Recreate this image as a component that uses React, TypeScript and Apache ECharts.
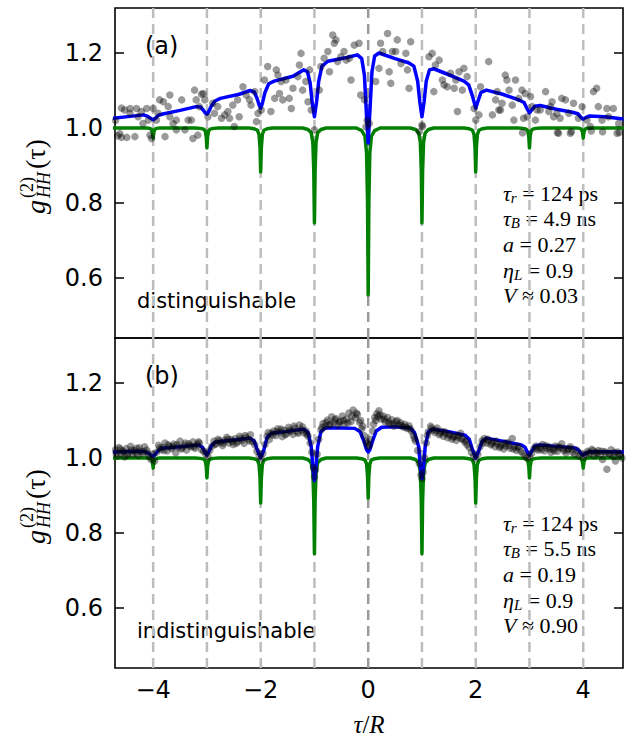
import React, { useEffect, useRef } from "react";
import * as echarts from "echarts";

const X_MIN = -4.71;
const X_MAX = 4.74;
const Y_MIN = 0.44;
const Y_MAX = 1.32;
const xTicks = [-4, -2, 0, 2, 4];
const yTicks = [0.6, 0.8, 1.0, 1.2];
const dashedAt = [-4, -3, -2, -1, 0, 1, 2, 3, 4];

const greenX = [
  -4.75,
  -4.22, -4.12, -4.06, -4.03, -4.012, -4, -3.988, -3.97, -3.94, -3.88, -3.78,
  -3.22, -3.12, -3.06, -3.03, -3.012, -3, -2.988, -2.97, -2.94, -2.88, -2.78,
  -2.22, -2.12, -2.06, -2.03, -2.012, -2, -1.988, -1.97, -1.94, -1.88, -1.78,
  -1.22, -1.12, -1.06, -1.03, -1.012, -1, -0.988, -0.97, -0.94, -0.88, -0.78,
  -0.22, -0.12, -0.06, -0.03, -0.012, 0, 0.012, 0.03, 0.06, 0.12, 0.22,
  0.78, 0.88, 0.94, 0.97, 0.988, 1, 1.012, 1.03, 1.06, 1.12, 1.22,
  1.78, 1.88, 1.94, 1.97, 1.988, 2, 2.012, 2.03, 2.06, 2.12, 2.22,
  2.78, 2.88, 2.94, 2.97, 2.988, 3, 3.012, 3.03, 3.06, 3.12, 3.22,
  3.78, 3.88, 3.94, 3.97, 3.988, 4, 4.012, 4.03, 4.06, 4.12, 4.22,
  4.75,
];
const greenYA = [
  1.0,
  1, 1.0, 0.999, 0.996, 0.988, 0.973, 0.988, 0.996, 0.999, 1.0, 1,
  1, 0.999, 0.997, 0.992, 0.976, 0.947, 0.976, 0.992, 0.997, 0.999, 1,
  1, 0.998, 0.994, 0.982, 0.947, 0.883, 0.947, 0.982, 0.994, 0.998, 1,
  1, 0.996, 0.987, 0.962, 0.886, 0.747, 0.886, 0.962, 0.987, 0.996, 1,
  1, 0.993, 0.978, 0.933, 0.8, 0.555, 0.8, 0.933, 0.978, 0.993, 1,
  1, 0.996, 0.987, 0.962, 0.886, 0.747, 0.886, 0.962, 0.987, 0.996, 1,
  1, 0.998, 0.994, 0.982, 0.947, 0.883, 0.947, 0.982, 0.994, 0.998, 1,
  1, 0.999, 0.997, 0.992, 0.976, 0.947, 0.976, 0.992, 0.997, 0.999, 1,
  1, 1.0, 0.999, 0.996, 0.988, 0.973, 0.988, 0.996, 0.999, 1.0, 1,
  1.0,
];
const greenYB = [
  1.0,
  1, 1.0, 0.999, 0.996, 0.988, 0.973, 0.988, 0.996, 0.999, 1.0, 1,
  1, 0.999, 0.997, 0.992, 0.976, 0.947, 0.976, 0.992, 0.997, 0.999, 1,
  1, 0.998, 0.994, 0.982, 0.946, 0.88, 0.946, 0.982, 0.994, 0.998, 1,
  1, 0.996, 0.987, 0.962, 0.885, 0.745, 0.885, 0.962, 0.987, 0.996, 1,
  1, 0.998, 0.995, 0.984, 0.952, 0.893, 0.952, 0.984, 0.995, 0.998, 1,
  1, 0.996, 0.987, 0.962, 0.885, 0.745, 0.885, 0.962, 0.987, 0.996, 1,
  1, 0.998, 0.994, 0.982, 0.946, 0.88, 0.946, 0.982, 0.994, 0.998, 1,
  1, 0.999, 0.997, 0.992, 0.976, 0.947, 0.976, 0.992, 0.997, 0.999, 1,
  1, 1.0, 0.999, 0.996, 0.988, 0.973, 0.988, 0.996, 0.999, 1.0, 1,
  1.0,
];

const blueA: [number, number][] = [
  [-4.75, 1.026], [-4.3, 1.033], [-4.18, 1.035], [-4.1, 1.031], [-4.05, 1.026], [-4.0, 1.022],
  [-3.95, 1.027], [-3.9, 1.034], [-3.8, 1.038], [-3.5, 1.047], [-3.2, 1.057], [-3.12, 1.056],
  [-3.07, 1.048], [-3.03, 1.04], [-3.0, 1.037], [-2.97, 1.043], [-2.92, 1.058], [-2.85, 1.072],
  [-2.75, 1.079], [-2.4, 1.09], [-2.2, 1.1], [-2.12, 1.096], [-2.07, 1.08], [-2.03, 1.062],
  [-2.0, 1.053], [-1.97, 1.065], [-1.92, 1.095], [-1.85, 1.118], [-1.75, 1.125], [-1.4, 1.138],
  [-1.2, 1.155], [-1.13, 1.15], [-1.08, 1.12], [-1.04, 1.065], [-1.0, 1.03], [-0.96, 1.07],
  [-0.92, 1.125], [-0.86, 1.165], [-0.75, 1.178], [-0.4, 1.188], [-0.2, 1.195], [-0.12, 1.185],
  [-0.07, 1.14], [-0.03, 1.03], [0.0, 0.96], [0.03, 1.04], [0.07, 1.15], [0.12, 1.192],
  [0.2, 1.2], [0.5, 1.185], [0.75, 1.174], [0.85, 1.165], [0.92, 1.125], [0.96, 1.07],
  [1.0, 1.03], [1.04, 1.07], [1.08, 1.125], [1.14, 1.155], [1.22, 1.158], [1.5, 1.142],
  [1.78, 1.125], [1.87, 1.115], [1.94, 1.085], [2.0, 1.053], [2.05, 1.075], [2.1, 1.095],
  [2.2, 1.101], [2.5, 1.09], [2.8, 1.075], [2.9, 1.068], [2.96, 1.05], [3.0, 1.04],
  [3.04, 1.048], [3.1, 1.058], [3.2, 1.06], [3.5, 1.05], [3.8, 1.042], [3.9, 1.038],
  [3.96, 1.028], [4.0, 1.024], [4.05, 1.028], [4.12, 1.032], [4.4, 1.03], [4.75, 1.024],
];

const blueB: [number, number][] = [
  [-4.75, 1.016], [-4.3, 1.018], [-4.15, 1.017], [-4.08, 1.012], [-4.03, 1.006], [-4.0, 1.005],
  [-3.97, 1.008], [-3.92, 1.018], [-3.85, 1.026], [-3.5, 1.03], [-3.15, 1.035], [-3.08, 1.028],
  [-3.03, 1.013], [-3.0, 1.008], [-2.97, 1.015], [-2.92, 1.032], [-2.85, 1.042], [-2.5, 1.048],
  [-2.2, 1.053], [-2.12, 1.045], [-2.06, 1.02], [-2.0, 1.0], [-1.94, 1.022], [-1.88, 1.055],
  [-1.8, 1.066], [-1.5, 1.071], [-1.2, 1.077], [-1.12, 1.068], [-1.06, 1.03], [-1.02, 0.96],
  [-1.0, 0.94], [-0.98, 0.96], [-0.94, 1.03], [-0.88, 1.07], [-0.8, 1.08], [-0.5, 1.08],
  [-0.25, 1.079], [-0.15, 1.07], [-0.08, 1.045], [-0.03, 1.022], [0.0, 1.016], [0.03, 1.022],
  [0.08, 1.045], [0.15, 1.072], [0.25, 1.082], [0.5, 1.083], [0.78, 1.08], [0.86, 1.068],
  [0.94, 1.03], [0.98, 0.96], [1.0, 0.945], [1.02, 0.96], [1.06, 1.03], [1.12, 1.07],
  [1.2, 1.077], [1.5, 1.07], [1.8, 1.061], [1.88, 1.05], [1.94, 1.022], [2.0, 1.0],
  [2.06, 1.02], [2.12, 1.045], [2.2, 1.053], [2.5, 1.045], [2.85, 1.035], [2.92, 1.028],
  [2.97, 1.013], [3.0, 1.008], [3.03, 1.015], [3.1, 1.032], [3.2, 1.035], [3.5, 1.031],
  [3.85, 1.027], [3.92, 1.02], [3.97, 1.01], [4.0, 1.008], [4.04, 1.012], [4.12, 1.017],
  [4.4, 1.017], [4.75, 1.016],
];

const scatterA: [number, number][] = [
  [-4.7, 1.02], [-4.66, 0.979], [-4.62, 0.985], [-4.59, 0.975], [-4.59, 1.053], [-4.53, 1.048],
  [-4.49, 0.975], [-4.34, 0.977], [-4.43, 1.052], [-4.31, 1.052], [-4.22, 1.044], [-4.12, 1.052],
  [-4.43, 1.039], [-4.28, 1.03], [-4.19, 1.012], [-4.09, 1.021], [-4.06, 0.981], [-4.03, 0.972],
  [-4.0, 1.052], [-3.91, 1.039], [-3.94, 1.021], [-3.81, 1.07], [-3.78, 0.977], [-3.72, 1.057],
  [-3.69, 1.03], [-3.63, 1.012], [-3.57, 1.021], [-3.57, 0.995], [-3.47, 1.075], [-3.41, 0.995],
  [-3.35, 1.021], [-3.29, 1.021], [-3.26, 0.972], [-3.23, 1.101], [-3.2, 1.075], [-3.17, 0.981],
  [-3.14, 1.057], [-3.07, 1.092], [-3.04, 1.075], [-2.98, 1.03], [-2.89, 1.066], [-2.86, 1.039],
  [-2.8, 1.057], [-2.73, 1.026], [-2.67, 1.035], [-2.61, 1.044], [-2.58, 1.026], [-2.52, 1.061],
  [-2.49, 1.004], [-2.43, 1.075], [-2.4, 1.03], [-2.33, 1.11], [-3.69, 1.088], [-3.88, 1.075],
  [-3.1, 1.09], [-2.27, 1.088], [-2.21, 1.075], [-2.18, 1.061], [-2.11, 1.097], [-2.05, 1.039],
  [-2.08, 1.017], [-1.99, 1.048], [-1.93, 1.128], [-1.87, 1.164], [-1.81, 1.044], [-1.74, 1.079],
  [-1.71, 1.155], [-1.68, 1.141], [-1.65, 1.092], [-1.62, 1.124], [-1.59, 1.075], [-1.53, 1.128],
  [-1.47, 1.079], [-1.43, 1.052], [-1.4, 1.106], [-1.31, 1.137], [-1.28, 1.168], [-1.25, 1.199],
  [-1.22, 1.101], [-1.16, 1.124], [-1.12, 1.07], [-1.09, 1.155], [-1.06, 1.048], [-1.0, 0.995],
  [-0.91, 1.101], [-0.88, 1.164], [-0.82, 1.186], [-0.75, 1.204], [-0.72, 1.15], [-0.66, 1.248],
  [-0.63, 1.226], [-0.6, 1.235], [-0.57, 1.177], [-0.51, 1.19], [-0.45, 1.204], [-0.41, 1.181],
  [-0.35, 1.186], [-0.32, 1.128], [-0.26, 1.221], [-0.17, 1.226], [-0.14, 1.088], [-0.07, 1.075],
  [-0.04, 1.003], [-0.02, 1.02], [0.02, 1.012], [0.14, 1.124], [0.2, 1.159], [0.23, 1.226],
  [0.27, 1.204], [0.36, 1.252], [0.39, 1.15], [0.42, 1.119], [0.45, 1.204], [0.51, 1.204],
  [0.54, 1.235], [0.61, 1.172], [0.7, 1.199], [0.73, 1.155], [0.76, 1.106], [0.79, 1.23],
  [0.95, 0.99], [1.0, 1.008], [1.01, 1.004], [1.13, 1.19], [1.19, 1.199], [1.25, 1.168],
  [1.22, 1.097], [1.32, 1.181], [1.38, 1.128], [1.41, 1.115], [1.47, 1.11], [1.53, 1.146],
  [1.6, 1.106], [1.63, 1.128], [1.69, 1.15], [1.75, 1.101], [1.78, 1.159], [1.84, 1.137],
  [1.66, 1.044], [1.97, 1.052], [2.0, 1.021], [2.06, 1.035], [2.09, 1.11], [2.24, 1.177],
  [2.31, 1.035], [2.37, 1.075], [2.46, 1.048], [2.4, 1.097], [2.43, 1.048], [2.49, 1.066],
  [2.55, 1.141], [2.58, 1.128], [2.62, 1.101], [2.68, 1.061], [2.71, 1.021], [2.74, 1.128],
  [2.8, 1.079], [2.86, 1.101], [2.89, 1.026], [2.92, 1.092], [2.96, 1.03], [3.02, 1.084],
  [3.05, 1.057], [3.11, 1.021], [3.14, 1.048], [3.2, 1.048], [3.3, 1.097], [3.36, 1.044],
  [3.39, 1.057], [3.42, 1.07], [3.45, 1.03], [3.51, 1.039], [3.54, 0.986], [3.57, 1.026],
  [3.6, 1.079], [3.67, 1.075], [3.73, 1.039], [3.76, 0.986], [3.82, 1.066], [3.91, 1.026],
  [3.98, 1.057], [4.07, 1.021], [4.13, 1.004], [4.19, 1.097], [4.25, 1.106], [4.28, 1.057],
  [4.35, 1.021], [4.44, 1.052], [4.47, 1.03], [4.56, 1.052], [4.63, 0.986], [4.66, 1.012],
  [2.87, 0.987], [3.52, 0.988], [3.78, 0.99], [4.15, 0.992], [4.36, 0.99], [4.67, 0.988],
];

const scatterB: [number, number][] = [
  [-4.7, 1.022], [-4.67, 1.005], [-4.64, 1.028], [-4.6, 1.012], [-4.57, 1.019], [-4.53, 1.003],
  [-4.5, 1.025], [-4.46, 1.014], [-4.42, 1.031], [-4.39, 1.009], [-4.35, 1.02], [-4.31, 1.026],
  [-4.28, 1.007], [-4.24, 1.018], [-4.2, 1.012], [-4.16, 1.03], [-4.12, 1.021], [-4.08, 1.004],
  [-4.04, 0.996], [-4.01, 1.01], [-3.97, 0.992], [-3.94, 1.015], [-3.9, 1.034], [-3.86, 1.022],
  [-3.82, 1.028], [-3.78, 1.04], [-3.74, 1.019], [-3.7, 1.031], [-3.66, 1.025], [-3.62, 1.037],
  [-3.58, 1.014], [-3.54, 1.029], [-3.5, 1.045], [-3.46, 1.027], [-3.42, 1.033], [-3.38, 1.021],
  [-3.34, 1.038], [-3.3, 1.03], [-3.26, 1.043], [-3.22, 1.026], [-3.18, 1.036], [-3.14, 1.04],
  [-3.1, 1.022], [-3.06, 1.018], [-3.02, 1.01], [-2.98, 1.004], [-2.95, 1.02], [-2.91, 1.031],
  [-2.87, 1.045], [-2.83, 1.038], [-2.79, 1.05], [-2.75, 1.041], [-2.71, 1.033], [-2.67, 1.047],
  [-2.63, 1.055], [-2.59, 1.04], [-2.55, 1.049], [-2.51, 1.036], [-2.47, 1.052], [-2.43, 1.044],
  [-2.39, 1.058], [-2.35, 1.047], [-2.31, 1.039], [-2.27, 1.055], [-2.23, 1.05], [-2.19, 1.062],
  [-2.15, 1.044], [-2.11, 1.035], [-2.07, 1.018], [-2.03, 1.005], [-1.99, 0.998], [-1.96, 1.012],
  [-1.92, 1.036], [-1.88, 1.058], [-1.84, 1.049], [-1.8, 1.066], [-1.76, 1.072], [-1.72, 1.06],
  [-1.68, 1.078], [-1.64, 1.069], [-1.6, 1.057], [-1.56, 1.074], [-1.52, 1.065], [-1.48, 1.082],
  [-1.44, 1.071], [-1.4, 1.063], [-1.36, 1.079], [-1.32, 1.07], [-1.28, 1.088], [-1.24, 1.075],
  [-1.2, 1.067], [-1.16, 1.072], [-1.12, 1.058], [-1.08, 1.04], [-1.05, 1.015], [-1.02, 0.975],
  [-1.0, 0.95], [-0.98, 0.968], [-0.95, 1.01], [-0.92, 1.05], [-0.88, 1.075], [-0.84, 1.092],
  [-0.8, 1.084], [-0.76, 1.101], [-0.72, 1.088], [-0.68, 1.11], [-0.64, 1.094], [-0.6, 1.105],
  [-0.56, 1.087], [-0.52, 1.098], [-0.48, 1.112], [-0.44, 1.091], [-0.4, 1.104], [-0.36, 1.12],
  [-0.32, 1.097], [-0.28, 1.128], [-0.24, 1.108], [-0.2, 1.116], [-0.16, 1.095], [-0.12, 1.078],
  [-0.08, 1.06], [-0.04, 1.045], [0.0, 1.03], [0.04, 1.05], [0.08, 1.072], [0.12, 1.108],
  [0.16, 1.118], [0.2, 1.126], [0.24, 1.104], [0.28, 1.112], [0.32, 1.096], [0.36, 1.108],
  [0.4, 1.09], [0.44, 1.102], [0.48, 1.085], [0.52, 1.097], [0.56, 1.088], [0.6, 1.094],
  [0.64, 1.083], [0.68, 1.09], [0.72, 1.079], [0.76, 1.086], [0.8, 1.072], [0.84, 1.06],
  [0.88, 1.045], [0.92, 1.02], [0.95, 0.985], [0.98, 0.955], [1.0, 0.945], [1.02, 0.962],
  [1.05, 1.0], [1.08, 1.04], [1.12, 1.07], [1.16, 1.085], [1.2, 1.074], [1.24, 1.068],
  [1.28, 1.08], [1.32, 1.062], [1.36, 1.071], [1.4, 1.058], [1.44, 1.066], [1.48, 1.054],
  [1.52, 1.063], [1.56, 1.05], [1.6, 1.058], [1.64, 1.047], [1.68, 1.055], [1.72, 1.066],
  [1.76, 1.049], [1.8, 1.042], [1.84, 1.035], [1.88, 1.028], [1.92, 1.015], [1.96, 1.005],
  [2.0, 0.998], [2.04, 1.01], [2.08, 1.03], [2.12, 1.046], [2.16, 1.052], [2.2, 1.04],
  [2.24, 1.047], [2.28, 1.035], [2.32, 1.043], [2.36, 1.03], [2.4, 1.038], [2.44, 1.028],
  [2.48, 1.036], [2.52, 1.024], [2.56, 1.032], [2.6, 1.041], [2.64, 1.026], [2.68, 1.052],
  [2.72, 1.03], [2.76, 1.02], [2.8, 1.027], [2.84, 1.018], [2.88, 1.012], [2.92, 1.005],
  [2.96, 1.0], [3.0, 1.004], [3.04, 1.012], [3.08, 1.025], [3.12, 1.032], [3.16, 1.021],
  [3.2, 1.028], [3.24, 1.036], [3.28, 1.019], [3.32, 1.026], [3.36, 1.03], [3.4, 1.015],
  [3.44, 1.024], [3.48, 1.032], [3.52, 1.018], [3.56, 1.027], [3.6, 1.038], [3.64, 1.02],
  [3.68, 1.013], [3.72, 1.025], [3.76, 1.03], [3.8, 1.016], [3.84, 1.01], [3.88, 1.021],
  [3.92, 1.005], [3.96, 1.012], [4.0, 1.002], [4.04, 1.009], [4.08, 1.018], [4.12, 1.011],
  [4.16, 1.023], [4.2, 1.006], [4.24, 1.015], [4.28, 1.02], [4.32, 1.01], [4.36, 0.996],
  [4.4, 1.017], [4.44, 0.97], [4.48, 1.012], [4.52, 1.022], [4.56, 1.004], [4.6, 0.992],
  [4.64, 1.016], [4.68, 1.008], [4.72, 1.0],
];

const scatterBExtra: [number, number][] = [
  [-4.69, 1.012], [-4.61, 1.024], [-4.55, 1.016], [-4.48, 1.008], [-4.4, 1.021], [-4.33, 1.013],
  [-4.26, 1.027], [-4.18, 1.017], [-4.1, 1.013], [-3.88, 1.027], [-3.8, 1.02], [-3.72, 1.035],
  [-3.64, 1.03], [-3.56, 1.036], [-3.48, 1.024], [-3.4, 1.04], [-3.32, 1.033], [-3.24, 1.03],
  [-3.16, 1.043], [-2.85, 1.036], [-2.77, 1.046], [-2.69, 1.04], [-2.61, 1.05], [-2.53, 1.044],
  [-2.45, 1.039], [-2.37, 1.052], [-2.29, 1.06], [-2.21, 1.045], [-1.86, 1.068], [-1.78, 1.061],
  [-1.7, 1.07], [-1.62, 1.077], [-1.54, 1.062], [-1.46, 1.074], [-1.38, 1.085], [-1.3, 1.066],
  [-1.22, 1.083], [-1.14, 1.064], [-0.86, 1.082], [-0.78, 1.095], [-0.7, 1.09], [-0.62, 1.102],
  [-0.54, 1.095], [-0.46, 1.1], [-0.38, 1.094], [-0.3, 1.112], [-0.22, 1.12], [-0.14, 1.1],
  [-0.1, 1.085], [-0.02, 1.04], [0.02, 1.035], [0.1, 1.09], [0.14, 1.1], [0.18, 1.11],
  [0.22, 1.115], [0.3, 1.103], [0.38, 1.096], [0.46, 1.092], [0.54, 1.1], [0.62, 1.087],
  [0.7, 1.082], [0.78, 1.078], [0.86, 1.052], [1.1, 1.06], [1.18, 1.08], [1.26, 1.074],
  [1.34, 1.066], [1.42, 1.07], [1.5, 1.061], [1.58, 1.056], [1.66, 1.06], [1.74, 1.052],
  [1.82, 1.046], [2.14, 1.04], [2.22, 1.05], [2.3, 1.038], [2.38, 1.045], [2.46, 1.031],
  [2.54, 1.04], [2.62, 1.033], [2.7, 1.024], [2.78, 1.031], [3.14, 1.025], [3.22, 1.022],
  [3.3, 1.033], [3.38, 1.024], [3.46, 1.019], [3.54, 1.03], [3.62, 1.026], [3.7, 1.021],
  [3.78, 1.024], [4.1, 1.014], [4.18, 1.019], [4.26, 1.012], [4.34, 1.018], [4.42, 1.013],
  [4.5, 1.009], [4.58, 1.015], [4.66, 1.012],
];

const panelTags = ["(a)", "(b)"];
const panelNames = ["distinguishable", "indistinguishable"];
const tauR = ["124", "124"];
const tauB = ["4.9", "5.5"];
const aVals = ["0.27", "0.19"];
const etaL = ["0.9", "0.9"];
const vVals = ["0.03", "0.90"];

const GRID_LEFT = 115;
const GRID_W = 508;
const GRID_H = 330;
const GRID_TOPS = [8, 338];

const SERIF = '"Liberation Serif", "DejaVu Serif", serif';
const SANS = '"DejaVu Sans", sans-serif';

function fmtX(v: number) {
  return String(v).replace("-", "\u2212");
}

export default function App() {
  const ref = useRef<HTMLDivElement>(null);
  useEffect(() => {
    if (!ref.current) return;
    const chart = echarts.init(ref.current, undefined, { renderer: "svg" });

    const grids = GRID_TOPS.map((top) => ({
      left: GRID_LEFT,
      top,
      width: GRID_W,
      height: GRID_H,
      show: true,
      borderColor: "#000",
      borderWidth: 1.6,
      backgroundColor: "transparent",
    }));

    const tickStyle = { color: "#000", width: 1.5 };
    const xAxes: any[] = [];
    const yAxes: any[] = [];
    [0, 1].forEach((g) => {
      ["bottom", "top"].forEach((pos) => {
        xAxes.push({
          type: "value",
          gridIndex: g,
          position: pos,
          min: X_MIN,
          max: X_MAX,
          axisLine: { show: false, onZero: false },
          splitLine: { show: false },
          axisTick: { show: true, inside: true, length: 9, lineStyle: tickStyle, customValues: xTicks },
          axisLabel: {
            show: g === 1 && pos === "bottom",
            customValues: xTicks,
            formatter: (v: number) => fmtX(v),
            fontFamily: SANS,
            fontSize: 24,
            color: "#000",
            margin: 10,
          },
        });
      });
      ["left", "right"].forEach((pos) => {
        yAxes.push({
          type: "value",
          gridIndex: g,
          position: pos,
          min: Y_MIN,
          max: Y_MAX,
          axisLine: { show: false, onZero: false },
          splitLine: { show: false },
          axisTick: { show: true, inside: true, length: 9, lineStyle: tickStyle, customValues: yTicks },
          axisLabel: {
            show: pos === "left",
            customValues: yTicks,
            formatter: (v: number) => v.toFixed(1),
            fontFamily: SANS,
            fontSize: 24,
            color: "#000",
            margin: 12,
          },
        });
      });
    });

    const series: any[] = [];
    [0, 1].forEach((g) => {
      const xi = g * 2;
      const yi = g * 2;
      dashedAt.forEach((k) => {
        series.push({
          type: "line",
          xAxisIndex: xi,
          yAxisIndex: yi,
          data: [[k, Y_MIN], [k, Y_MAX]],
          symbol: "none",
          silent: true,
          z: 1,
          lineStyle: { color: k === 0 ? "#9a9a9a" : "#bdbdbd", width: 2.5, type: [10, 6] },
        });
      });
      const gy = g === 0 ? greenYA : greenYB;
      series.push({
        type: "line",
        xAxisIndex: xi,
        yAxisIndex: yi,
        data: greenX.map((x, i) => [x, gy[i]]),
        symbol: "none",
        silent: true,
        z: 2,
        lineStyle: { color: "#008000", width: 3.5, join: "round" },
      });
      series.push({
        type: "line",
        xAxisIndex: xi,
        yAxisIndex: yi,
        data: g === 0 ? blueA : blueB,
        symbol: "none",
        silent: true,
        z: 3,
        lineStyle: { color: "#0000ff", width: 3.5, join: "round" },
      });
      series.push({
        type: "scatter",
        xAxisIndex: xi,
        yAxisIndex: yi,
        data: g === 0 ? scatterA : scatterB.concat(scatterBExtra),
        symbolSize: 7.5,
        silent: true,
        z: 4,
        itemStyle: { color: "rgba(0,0,0,0.5)" },
      });
    });

    const graphics: any[] = [];
    [0, 1].forEach((g) => {
      const off = g * 330;
      graphics.push({
        type: "text",
        left: 145,
        top: 34 + off,
        style: { text: panelTags[g], font: `24px ${SANS}`, fill: "#000" },
      });
      graphics.push({
        type: "text",
        left: 137,
        top: 290 + off,
        style: { text: panelNames[g], font: `21px ${SANS}`, fill: "#000" },
      });
      const rich = {
        i: { fontFamily: SERIF, fontStyle: "italic", fontSize: 22, lineHeight: 25 },
        s: { fontFamily: SERIF, fontStyle: "italic", fontSize: 15, lineHeight: 11, verticalAlign: "bottom" },
        n: { fontFamily: SERIF, fontSize: 22, lineHeight: 25 },
      };
      const lines = [
        `{i|τ}{s|r}{n| = ${tauR[g]} ps}`,
        `{i|τ}{s|B}{n| = ${tauB[g]} ns}`,
        `{i|a}{n| = ${aVals[g]}}`,
        `{i|η}{s|L}{n| = ${etaL[g]}}`,
        `{i|V}{n| ≈ ${vVals[g]}}`,
      ];
      const ys = [193, 218, 244, 270, 295];
      lines.forEach((t, j) => {
        graphics.push({
          type: "text",
          x: 503,
          y: ys[j] + off,
          style: { text: t, rich, fill: "#000", verticalAlign: "middle", align: "left" },
        });
      });
      graphics.push({
        type: "group",
        x: 44,
        y: 214 + off,
        rotation: Math.PI / 2,
        children: [
          { type: "text", x: 0, y: -9, style: { text: "g", font: `italic 28px ${SERIF}`, fill: "#000", verticalAlign: "middle" } },
          { type: "text", x: 16, y: -17, style: { text: "(2)", font: `18px ${SERIF}`, fill: "#000", verticalAlign: "middle" } },
          { type: "text", x: 16, y: 0, style: { text: "HH", font: `italic 18px ${SERIF}`, fill: "#000", verticalAlign: "middle" } },
          { type: "text", x: 45, y: -9, style: { text: "(τ)", font: `28px ${SERIF}`, fill: "#000", verticalAlign: "middle" } },
        ],
      });
    });
    graphics.push({
      type: "text",
      x: 369,
      y: 724,
      style: {
        text: "{i|τ}{n|/}{i|R}",
        rich: {
          i: { fontFamily: SERIF, fontStyle: "italic", fontSize: 25 },
          n: { fontFamily: SERIF, fontSize: 25 },
        },
        fill: "#000",
        align: "center",
        verticalAlign: "middle",
      },
    });

    chart.setOption({
      animation: false,
      backgroundColor: "#fff",
      grid: grids,
      xAxis: xAxes,
      yAxis: yAxes,
      series,
      graphic: graphics,
    });
    return () => chart.dispose();
  }, []);
  return <div ref={ref} style={{ position: "fixed", left: 0, top: 0, width: 628, height: 739 }} />;
}
